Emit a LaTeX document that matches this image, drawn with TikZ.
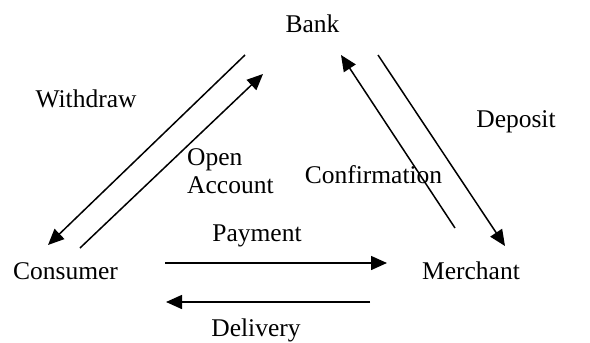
\documentclass[tikz,border=0pt]{standalone}
\usepackage{fontspec}
\setmainfont{Liberation Serif}
\usetikzlibrary{arrows.meta}
\begin{document}
\begin{tikzpicture}[x=1pt,y=-1pt,
  lbl/.style={inner sep=0pt, anchor=base, font=\fontsize{25.5}{30}\selectfont},
  lblw/.style={inner sep=0pt, anchor=base west, font=\fontsize{25.5}{30}\selectfont},
  flow/.style={line width=1.5pt, -{Triangle[length=16pt,width=14pt]}},
  plain/.style={line width=1.5pt}]
\useasboundingbox (0,0) rectangle (590,343);
% labels
\node[lbl] (bank) at (312.5,32) {Bank};
\node[lbl] (consumer) at (65.5,279) {Consumer};
\node[lbl] (merchant) at (471,279) {Merchant};
\node[lbl] (withdraw) at (86,107) {Withdraw};
\node[lblw] (open) at (187,165) {Open};
\node[lblw] (account) at (187,193) {Account};
\node[lbl] (confirm) at (373.5,183) {Confirmation};
\node[lbl] (deposit) at (516,127) {Deposit};
\node[lbl] (payment) at (257,241) {Payment};
\node[lbl] (delivery) at (256,336) {Delivery};
% endpoints
\coordinate (wS) at (245,55);
\coordinate (wE) at (48,245);
\coordinate (oS) at (80,248);
\coordinate (oE) at (263,74);
\coordinate (cS) at (455,228);
\coordinate (cE) at (341,55);
\coordinate (dS) at (378,55);
\coordinate (dE) at (505,246);
\coordinate (pS) at (165,263);
\coordinate (pE) at (387,263);
\coordinate (vS) at (370,302);
\coordinate (vE) at (166,302);
% connectors
\draw[flow] (wS) -- (wE);
\draw[flow] (oS) -- (oE);
\draw[flow] (cS) -- (cE);
\draw[flow] (dS) -- (dE);
\draw[flow] (pS) -- (pE);
\draw[flow] (vS) -- (vE);
\end{tikzpicture}
\end{document}
